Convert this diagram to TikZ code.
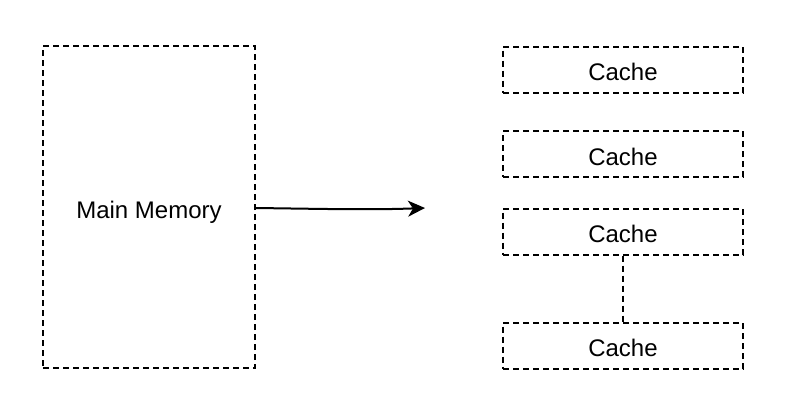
\documentclass[tikz,border=0pt]{standalone}
\usepackage{fontspec}
\setmainfont{Liberation Sans}
\usetikzlibrary{arrows.meta}
\newcommand{\lbl}[1]{\raisebox{-11pt}[0pt][0pt]{#1}}
\begin{document}
\begin{tikzpicture}[x=1pt,y=-1pt,
  dbox/.style={draw, line width=2pt, dash pattern=on 6pt off 4pt, font=\fontsize{24}{28}\selectfont, inner sep=0pt},
  conn/.style={line width=2pt}]
\useasboundingbox (0,0) rectangle (798,418);
\node[dbox, minimum width=212pt, minimum height=322pt] (mm) at (149,207) {\lbl{Main Memory}};
\node[dbox, minimum width=240pt, minimum height=46pt] (c1) at (623,69.5) {\lbl{Cache}};
\node[dbox, minimum width=240pt, minimum height=46pt] (c2) at (623,154) {\lbl{Cache}};
\node[dbox, minimum width=240pt, minimum height=46pt] (c3) at (623,231.5) {\lbl{Cache}};
\node[dbox, minimum width=240pt, minimum height=46pt] (c4) at (623,345.5) {\lbl{Cache}};
\coordinate (tip) at (425,208);
\draw[conn, -{Stealth[length=17pt,width=16pt,inset=5pt]}] (mm.east |- 0,208) .. controls (330,209) and (370,210) .. (tip);
\draw[conn, dash pattern=on 6pt off 4pt] (c3.south) -- (c4.north);
\end{tikzpicture}
\end{document}
